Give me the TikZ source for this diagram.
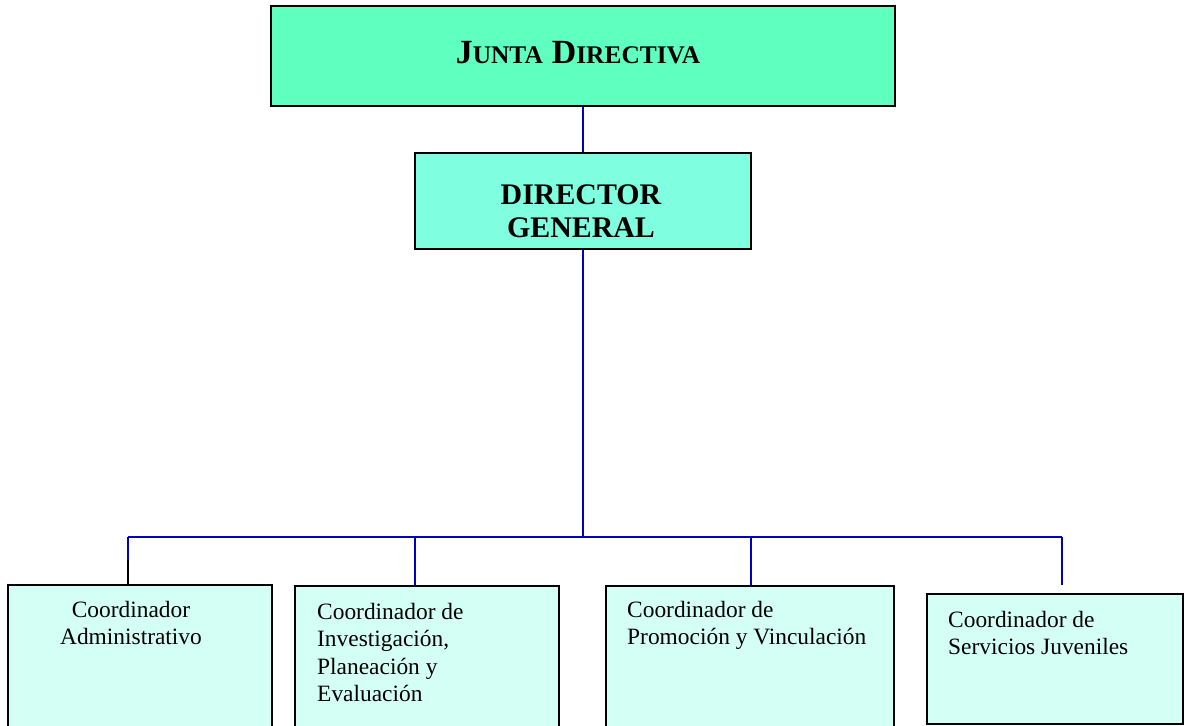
\documentclass[tikz,border=0pt]{standalone}
\usepackage{fontspec}
\setmainfont{Liberation Serif}
\usepackage{tikz}
\definecolor{juntagreen}{HTML}{5FFFC0}
\definecolor{dirgreen}{HTML}{7FFFDF}
\definecolor{coordgreen}{HTML}{D4FFF4}
\definecolor{linkblue}{HTML}{0000C0}
\tikzset{
    orgbox/.style={draw=black, line width=1.6bp, inner sep=0pt},
    coordtext/.style={inner sep=0pt, font=\fontsize{23.5}{27.5}\selectfont},
    link/.style={draw=linkblue, line width=1.6bp},
}

\begin{document}
\begin{tikzpicture}[x=1bp,y=-1bp]
        \useasboundingbox (0,0) rectangle (1185,726);
        \node[orgbox, fill=juntagreen, minimum width=624bp, minimum height=100bp] (junta) at (583,56) {};
        \node[anchor=base, inner sep=0pt, font=\bfseries] (juntatext) at (578,64)
            {{\fontsize{34}{40}\selectfont J}{\fontsize{25.5}{30}\selectfont UNTA}\hspace{9bp}{\fontsize{34}{40}\selectfont D}{\fontsize{25.5}{30}\selectfont IRECTIVA}};
        \node[orgbox, fill=dirgreen, minimum width=336bp, minimum height=96bp] (director) at (583,201) {};
        \node[anchor=north, inner sep=0pt, align=center, font=\bfseries\fontsize{30}{33}\selectfont] (directortext) at (581,185) {DIRECTOR\\GENERAL};

        \node[orgbox, fill=coordgreen, anchor=north, minimum width=264bp, minimum height=160bp] (coordadmin) at (140,584) {};
        \node[orgbox, fill=coordgreen, anchor=north, minimum width=264bp, minimum height=160bp] (coordinv) at (427,585) {};
        \node[orgbox, fill=coordgreen, anchor=north, minimum width=288bp, minimum height=160bp] (coordprom) at (750,585) {};
        \node[orgbox, fill=coordgreen, anchor=north, minimum width=256bp, minimum height=130bp] (coordserv) at (1055,593) {};

        \node[coordtext, anchor=north, align=center] (admintext) at (131,600.8) {Coordinador\\Administrativo};
        \node[coordtext, anchor=north west, align=left] (invtext) at (317,602.8) {Coordinador de\\Investigación,\\Planeación y\\Evaluación};
        \node[coordtext, anchor=north west, align=left] (promtext) at (627,600.8) {Coordinador de\\Promoción y Vinculación};
        \node[coordtext, anchor=north west, align=left] (servtext) at (948,610.8) {Coordinador de\\Servicios Juveniles};

        \coordinate (bus) at (583,537);
        \coordinate (busadmin) at (128,537);
        \coordinate (businv) at (415,537);
        \coordinate (busprom) at (751,537);
        \coordinate (busserv) at (1062,537);
        \coordinate (adminjoint) at (128,560);
        \coordinate (servend) at (1062,585);

        \draw[link] (junta) -- (director);
        \draw[link] (director) -- (bus);
        \draw[link] (busadmin) -- (busserv);
        \draw[link] (busadmin) -- (adminjoint);
        \draw[line width=1.6bp] (adminjoint) -- (adminjoint |- coordadmin.north);
        \draw[link] (businv) -- (businv |- coordinv.north);
        \draw[link] (busprom) -- (busprom |- coordprom.north);
        \draw[link] (busserv) -- (servend);
\end{tikzpicture}
\end{document}
